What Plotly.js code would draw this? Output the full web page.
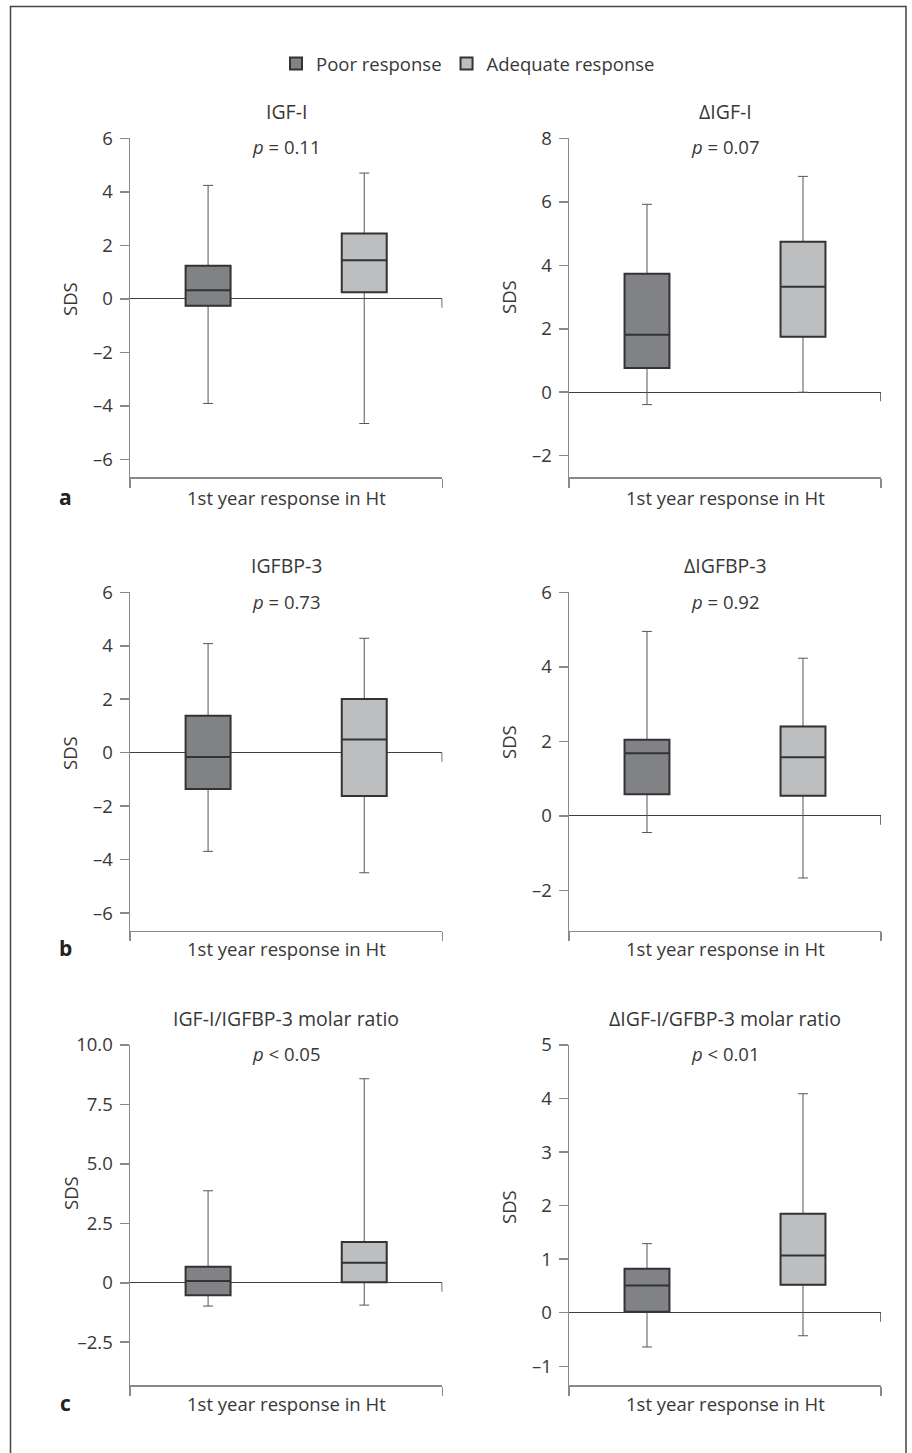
<!DOCTYPE html>
<html>
<head>
<meta charset="utf-8">
<script src="https://cdn.plot.ly/plotly-3.0.1.min.js"></script>
<style>
html,body{margin:0;padding:0;background:#fff;}
#chart{width:912px;height:1453px;}
</style>
</head>
<body>
<div id="chart"></div>
<script>
// ---- Data ----
const panelTitles = ['IGF-I', 'ΔIGF-I', 'IGFBP-3', 'ΔIGFBP-3', 'IGF-I/IGFBP-3 molar ratio', 'ΔIGF-I/GFBP-3 molar ratio'];
const pTexts = ['<i>p</i> = 0.11', '<i>p</i> = 0.07', '<i>p</i> = 0.73', '<i>p</i> = 0.92', '<i>p</i> < 0.05', '<i>p</i> < 0.01'];
const groupNames = ['Poor response', 'Adequate response'];
const panelLetters = ['a', 'b', 'c'];
const xAxisTitle = '1st year response in Ht';
const yAxisTitle = 'SDS';

// Poor response
const poorLower  = [-3.91, -0.39, -3.69, -0.45, -0.98, -0.64];
const poorQ1     = [-0.26,  0.76, -1.36,  0.58, -0.53,  0.02];
const poorMedian = [ 0.32,  1.81, -0.16,  1.68,  0.07,  0.51];
const poorQ3     = [ 1.24,  3.73,  1.38,  2.04,  0.67,  0.82];
const poorUpper  = [ 4.24,  5.92,  4.08,  4.95,  3.87,  1.29];
// Adequate response
const adqLower   = [-4.66,  0.00, -4.49, -1.67, -0.94, -0.43];
const adqQ1      = [ 0.25,  1.75, -1.62,  0.54,  0.02,  0.52];
const adqMedian  = [ 1.44,  3.32,  0.49,  1.57,  0.84,  1.07];
const adqQ3      = [ 2.44,  4.74,  2.01,  2.40,  1.71,  1.85];
const adqUpper   = [ 4.70,  6.80,  4.28,  4.23,  8.58,  4.09];

// Tick labels
const tickVals = [
  [-6, -4, -2, 0, 2, 4, 6],
  [-2, 0, 2, 4, 6, 8],
  [-6, -4, -2, 0, 2, 4, 6],
  [-2, 0, 2, 4, 6],
  [-2.5, 0, 2.5, 5, 7.5, 10],
  [-1, 0, 1, 2, 3, 4, 5]
];
const tickTexts = [
  ['–6', '–4', '–2', '0', '2', '4', '6'],
  ['–2', '0', '2', '4', '6', '8'],
  ['–6', '–4', '–2', '0', '2', '4', '6'],
  ['–2', '0', '2', '4', '6'],
  ['–2.5', '0', '2.5', '5.0', '7.5', '10.0'],
  ['–1', '0', '1', '2', '3', '4', '5']
];
const yRanges = [[-6.67, 6], [-2.68, 8], [-6.65, 6], [-3.08, 6], [-4.30, 10], [-1.35, 5]];

// ---- Layout geometry (pixels) ----
const W = 912, H = 1453;
const px = p => p / W;
const py = p => 1 - p / H;
const colX = [[130, 442.3], [569, 881]];
const rowY = [[138.3, 477.3], [592.3, 930.5], [1045, 1385]];
const titleY = [111.7, 565, 1018];
const pY = [146.7, 601.7, 1053];
const xTitleY = [497, 948, 1403];
const sdsY = [299, 297, 753, 742, 1193, 1207];
const sdsX = [70, 508];

const FONT = '"Open Sans", "Noto Sans", sans-serif';
const TXT = '#383838';
const AXC = '#8a8a8a';
const poorFill = '#808285';
const adqFill = '#bcbec0';

const data = [];
const layout = {
  width: W, height: H,
  margin: {l: 0, r: 0, t: 0, b: 0},
  paper_bgcolor: '#fff', plot_bgcolor: 'rgba(0,0,0,0)',
  font: {family: FONT, color: TXT, size: 18},
  boxmode: 'overlay',
  showlegend: true,
  legend: {orientation: 'h', x: px(468), xanchor: 'center', y: py(64), yanchor: 'middle',
           font: {size: 18.5, color: TXT}, itemwidth: 30, traceorder: 'normal'},
  annotations: [], shapes: []
};

for (let i = 0; i < 6; i++) {
  const r = Math.floor(i / 2), c = i % 2;
  const n = i + 1;
  const xa = 'x' + (n === 1 ? '' : n), ya = 'y' + (n === 1 ? '' : n);
  const xk = 'xaxis' + (n === 1 ? '' : n), yk = 'yaxis' + (n === 1 ? '' : n);

  layout[xk] = {
    domain: [px(colX[c][0]), px(colX[c][1])], range: [0, 1], anchor: ya,
    showline: true, linecolor: AXC, linewidth: 1.5, ticks: 'outside', tickvals: [0, 1],
    ticklen: 9, tickcolor: AXC, tickwidth: 1.5, showticklabels: false, showgrid: false,
    zeroline: false, fixedrange: true
  };
  layout[yk] = {
    domain: [py(rowY[r][1]), py(rowY[r][0])], range: yRanges[i], anchor: xa,
    showline: true, linecolor: AXC, linewidth: 1.5, ticks: 'outside', ticklen: 9,
    tickcolor: AXC, tickwidth: 1.5, tickvals: tickVals[i], ticktext: tickTexts[i],
    tickfont: {size: 18.5, color: TXT}, ticklabelstandoff: 3, showgrid: false,
    zeroline: true, zerolinecolor: '#404040', zerolinewidth: 1.2, fixedrange: true
  };

  const groups = [
    {name: groupNames[0], x: 0.25, lo: poorLower[i], q1: poorQ1[i], med: poorMedian[i], q3: poorQ3[i], hi: poorUpper[i], fill: poorFill},
    {name: groupNames[1], x: 0.75, lo: adqLower[i], q1: adqQ1[i], med: adqMedian[i], q3: adqQ3[i], hi: adqUpper[i], fill: adqFill}
  ];
  groups.forEach((g, gi) => {
    // whiskers (thin)
    data.push({
      type: 'box', xaxis: xa, yaxis: ya, x: [g.x],
      q1: [g.q1], median: [g.med], q3: [g.q3], lowerfence: [g.lo], upperfence: [g.hi],
      width: 0.144, whiskerwidth: 0.22, boxpoints: false,
      fillcolor: g.fill, line: {color: '#555', width: 1},
      showlegend: false, hoverinfo: 'skip', legendgroup: 'g' + gi
    });
    // box body (thick)
    data.push({
      type: 'box', xaxis: xa, yaxis: ya, x: [g.x], name: g.name,
      q1: [g.q1], median: [g.med], q3: [g.q3], lowerfence: [g.q1], upperfence: [g.q3],
      width: 0.144, whiskerwidth: 0, boxpoints: false,
      fillcolor: g.fill, line: {color: '#333', width: 2},
      showlegend: i === 0, hoverinfo: 'skip', legendgroup: 'g' + gi
    });
  });

  // small tick at right end of zero line
  layout.shapes.push({type: 'line', xref: xa, yref: ya, x0: 1, x1: 1,
    ysizemode: 'pixel', yanchor: 0, y0: 0, y1: -9, line: {color: '#404040', width: 1.5}});

  const cx = px((colX[c][0] + colX[c][1]) / 2);
  layout.annotations.push(
    {text: panelTitles[i], xref: 'paper', yref: 'paper', x: cx, y: py(titleY[r]),
     xanchor: 'center', yanchor: 'middle', showarrow: false, font: {size: 19.5, color: TXT}},
    {text: pTexts[i], xref: 'paper', yref: 'paper', x: cx, y: py(pY[r]),
     xanchor: 'center', yanchor: 'middle', showarrow: false, font: {size: 18.5, color: TXT}},
    {text: xAxisTitle, xref: 'paper', yref: 'paper', x: cx, y: py(xTitleY[r]),
     xanchor: 'center', yanchor: 'middle', showarrow: false, font: {size: 18.5, color: TXT}},
    {text: yAxisTitle, xref: 'paper', yref: 'paper', x: px(sdsX[c]), y: py(sdsY[i]),
     xanchor: 'center', yanchor: 'middle', textangle: -90, showarrow: false, font: {size: 18.5, color: TXT}}
  );
}

panelLetters.forEach((L, r) => {
  layout.annotations.push({text: '<b>' + L + '</b>', xref: 'paper', yref: 'paper',
    x: px(65), y: py(xTitleY[r]), xanchor: 'center', yanchor: 'middle', showarrow: false,
    font: {size: 21, color: '#222'}});
});

// outer frame
layout.shapes.push({type: 'rect', xref: 'paper', yref: 'paper', x0: px(10.5), x1: px(906), y0: -0.01, y1: py(6.5),
  line: {color: '#444', width: 1.5}, fillcolor: 'rgba(0,0,0,0)', layer: 'below'});

Plotly.newPlot('chart', data, layout, {displayModeBar: false, staticPlot: true});
</script>
</body>
</html>
